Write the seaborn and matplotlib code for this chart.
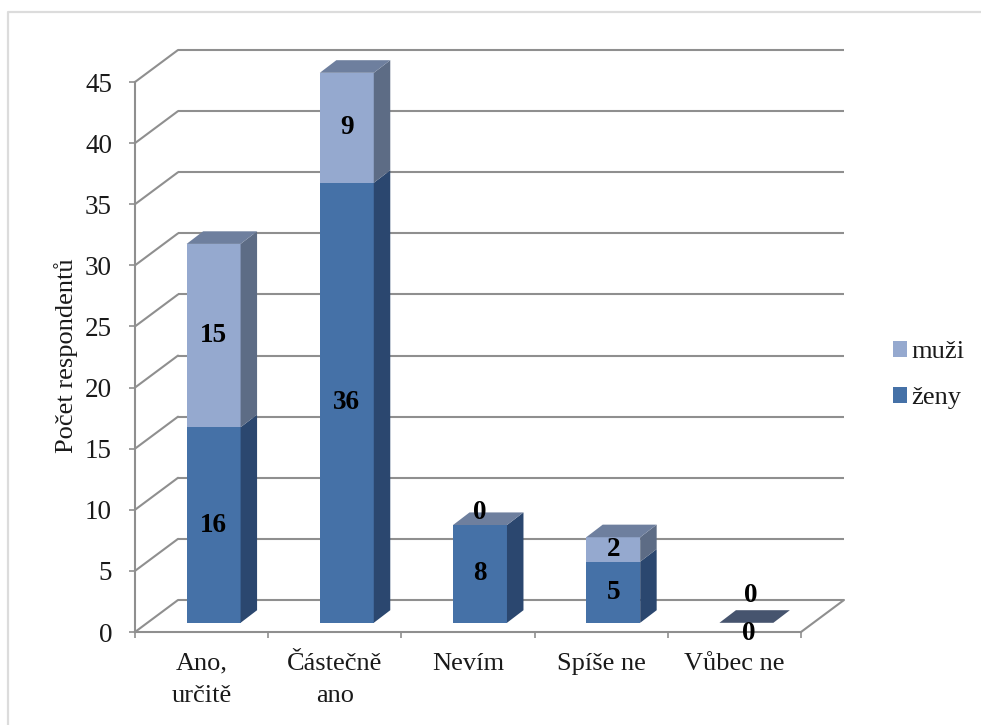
import matplotlib
matplotlib.use("Agg")
import matplotlib.pyplot as plt
import numpy as np
import seaborn as sns
from matplotlib.lines import Line2D
from matplotlib.patches import Polygon
from matplotlib.transforms import Affine2D, IdentityTransform

# Survey answers and respondent counts
answers = ["Ano,\nurčitě", "Částečně\nano", "Nevím", "Spíše ne", "Vůbec ne"]
zeny = [16, 36, 8, 5, 0]
muzi = [15, 9, 0, 2, 0]
y_ticks = [0, 5, 10, 15, 20, 25, 30, 35, 40, 45]
y_title = "Počet respondentů"
series_names = ["muži", "ženy"]

W, H = 981, 725
GRID = "#8f8f8f"
FRONT_MUZI, FRONT_ZENY = "#95a9cf", "#4571a7"
SIDE_MUZI, SIDE_ZENY = "#5d6c85", "#2b476f"
CAP, CAP_EMPTY = "#6e7f9e", "#46546e"
WALL_DEPTH = (43, 32)
BAR_SHIFT = (12, 9.2)
BAR_DEPTH = (16.5, 12.6)

sns.set_theme(style="white")
plt.rcParams["font.family"] = ["Liberation Serif", "DejaVu Serif"]
plt.rcParams["text.color"] = "#1a1a1a"

fig = plt.figure(figsize=(W / 100, H / 100), dpi=100, facecolor="white")


def axes_box(left, top, right, bottom):
    return [left / W, 1 - bottom / H, (right - left) / W, (bottom - top) / H]


# Thin outer frame of the chart area
fig.add_artist(Line2D([8 / W, 8 / W, 1], [0, 1 - 12 / H, 1 - 12 / H],
                      transform=fig.transFigure, color="#dcdcdc", lw=1.6))

# Front plane: axis lines, ticks and labels
ax = fig.add_axes(axes_box(135, 82, 801, 632))
ax.set_xlim(-0.5, len(answers) - 0.5)
ax.set_ylim(y_ticks[0], y_ticks[-1])
ax.patch.set_alpha(0)
for side in ("top", "right"):
    ax.spines[side].set_visible(False)
for side in ("left", "bottom"):
    ax.spines[side].set_color(GRID)
    ax.spines[side].set_linewidth(1.5)
ax.set_yticks(y_ticks)
ax.tick_params(axis="y", length=4.5, width=1.2, color=GRID, labelsize=19.5,
               pad=12, left=True, labelcolor="#1a1a1a")
ax.set_xticks(range(len(answers)), answers, linespacing=1.57)
ax.tick_params(axis="x", length=0, labelsize=19, pad=15, labelcolor="#1a1a1a")
ax.set_xticks(np.arange(len(answers) + 1) - 0.5, minor=True)
ax.tick_params(axis="x", which="minor", length=4.5, width=1.2, color=GRID, bottom=True)
ax.set_ylabel(y_title, fontsize=19, labelpad=5, y=0.503, color="#1a1a1a")

# Back wall gridlines with their diagonals to the front axis, plus the floor edge
to_back = ax.transData + Affine2D().translate(*WALL_DEPTH)
x_low, x_high = ax.get_xlim()
for value in y_ticks:
    ax.plot([x_low, x_high], [value, value], transform=to_back, color=GRID,
            lw=1.5, clip_on=False, solid_capstyle="butt")
    p0 = ax.transData.transform((x_low, value))
    p1 = to_back.transform((x_low, value))
    ax.add_line(Line2D([p0[0], p1[0]], [p0[1], p1[1]], transform=IdentityTransform(),
                       color=GRID, lw=1.5, clip_on=False))
p0 = ax.transData.transform((x_high, 0))
p1 = to_back.transform((x_high, 0))
ax.add_line(Line2D([p0[0], p1[0]], [p0[1], p1[1]], transform=IdentityTransform(),
                   color=GRID, lw=1.5, clip_on=False))

# Bars sit on their own axes, shifted into the depth of the floor
bars = fig.add_axes(axes_box(135 + BAR_SHIFT[0], 82 - BAR_SHIFT[1],
                             801 + BAR_SHIFT[0], 632 - BAR_SHIFT[1]))
bars.patch.set_alpha(0)
totals = np.add(zeny, muzi)
sns.barplot(x=answers, y=totals, ax=bars, color=FRONT_MUZI, saturation=1, width=0.405,
            label=series_names[0], linewidth=0)
sns.barplot(x=answers, y=zeny, ax=bars, color=FRONT_ZENY, saturation=1, width=0.405,
            label=series_names[1], linewidth=0)
bars.set_xlim(ax.get_xlim())
bars.set_ylim(ax.get_ylim())
bars.set_axis_off()
handles, labels = bars.get_legend_handles_labels()
if bars.get_legend() is not None:
    bars.get_legend().remove()


def depth_face(corners, color):
    """Fill a face whose corners are (x, y, goes-to-depth) in bar coordinates."""
    pts = []
    for x, y, deep in corners:
        px, py = bars.transData.transform((x, y))
        pts.append((px + deep * BAR_DEPTH[0], py + deep * BAR_DEPTH[1]))
    bars.add_patch(Polygon(pts, closed=True, facecolor=color, edgecolor="none",
                           transform=IdentityTransform(), clip_on=False, zorder=3))


half = 0.405 / 2
for i, (z, m) in enumerate(zip(zeny, muzi)):
    right = i + half
    left = i - half
    total = z + m
    if z:
        depth_face([(right, 0, 0), (right, z, 0), (right, z, 1), (right, 0, 1)], SIDE_ZENY)
    if m:
        depth_face([(right, z, 0), (right, total, 0), (right, total, 1), (right, z, 1)], SIDE_MUZI)
    depth_face([(left, total, 0), (right, total, 0), (right, total, 1), (left, total, 1)],
               CAP if total else CAP_EMPTY)

# Value labels; zero-valued segments are lifted or dropped clear of the bar
label_style = dict(ha="center", va="center", fontsize=19.5, fontweight="bold",
                   color="black", zorder=5, annotation_clip=False)
zero_offsets = {(2, "m"): (0, 13), (4, "m"): (4, 27), (4, "z"): (2, -11)}
for i, (z, m) in enumerate(zip(zeny, muzi)):
    for key, value, mid in (("z", z, z / 2), ("m", m, z + m / 2)):
        shift = zero_offsets.get((i, key))
        if value == 0 and shift is None:
            continue
        bars.annotate(str(value), (i, mid), xytext=shift or (0, 0),
                      textcoords="offset pixels", **label_style)

fig.legend(handles[:2], labels[:2], loc="center left", frameon=False,
           bbox_to_anchor=(869 / W, 1 - 375 / H), fontsize=19, handlelength=0.55,
           handleheight=0.55, handletextpad=0.15, labelspacing=0.89, labelcolor="#1a1a1a")

fig.savefig("out.png", dpi=100)
